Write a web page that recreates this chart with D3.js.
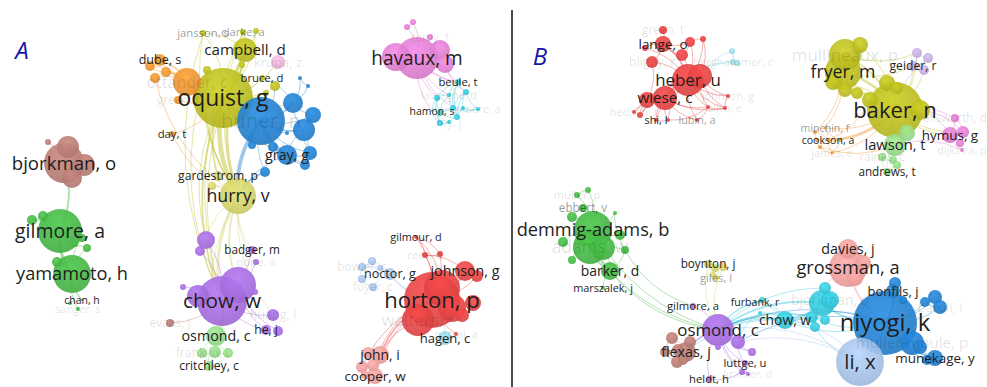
<!DOCTYPE html>
<html>
<head>
<meta charset="utf-8">
<script src="https://cdn.jsdelivr.net/npm/d3@7"></script>
<style>
  html, body { margin: 0; padding: 0; background: #fff; overflow: hidden; }
  svg { display: block; }
  text { font-family: "Open Sans", "Noto Sans", sans-serif; }
</style>
</head>
<body>
<svg id="chart" width="987" height="387"></svg>
<script>
// Cluster colours of the two co-authorship maps
const clusterColors = {
  red: "#e54444", green: "#45b845", blue: "#2381d0", olive: "#bcbe20",
  purple: "#a66ddf", cyan: "#38c9dc", orange: "#f2952f", brown: "#b97d75",
  pink: "#e07fd3", lightblue: "#a7c3e9", lightgreen: "#95db89", lightred: "#f3a09e",
  lightpurple: "#c6afdc", khaki: "#d3d36c", lightcyan: "#9edae6", lightpink: "#f3b6d8"
};

const panelLetters = ["A", "B"];

// Panel A nodes: [id, label, layout x, layout y, weight, cluster]
const nodesA = [
  ["bjorkman", "bjorkman, o", 64, 163, 400, "brown"],
  ["br1", "", 84, 165, 121, "brown"],
  ["br2", "", 68, 147, 121, "brown"],
  ["br3", "", 72, 178, 100, "brown"],
  ["br4", "", 48, 142, 9, "brown"],
  ["evans", "evans, j", 170, 323, 16, "brown"],
  ["gilmore", "gilmore, a", 60, 231, 484, "green"],
  ["g1", "", 32, 220, 25, "green"],
  ["g2", "", 43, 216, 25, "green"],
  ["g3", "", 82, 238, 16, "green"],
  ["g4", "", 87, 248, 16, "green"],
  ["g5", "", 75, 244, 9, "green"],
  ["yamamoto", "yamamoto, h", 72, 274, 361, "green"],
  ["g6", "", 57, 262, 25, "green"],
  ["chan", "chan, h", 82, 300, 1, "green"],
  ["sanger", "sanger, s", 78, 309, 4, "green"],
  ["g7", "", 70, 303, 4, "green"],
  ["dube", "dube, s", 160, 60, 36, "orange"],
  ["o1", "", 150, 66, 25, "orange"],
  ["o2", "", 166, 72, 25, "orange"],
  ["o3", "", 155, 78, 25, "orange"],
  ["ottander", "ottander, c", 187, 82, 196, "orange"],
  ["greer", "greer, d", 178, 100, 16, "orange"],
  ["day", "day, t", 172, 134, 9, "orange"],
  ["oquist", "oquist, g", 223, 98, 900, "olive"],
  ["campbell", "campbell, d", 245, 50, 144, "olive"],
  ["clarke", "clarke, a", 243, 32, 9, "olive"],
  ["jansson", "jansson, s", 203, 33, 9, "olive"],
  ["ol2", "", 256, 31, 9, "olive"],
  ["ol3", "", 207, 70, 16, "olive"],
  ["ol4", "", 242, 65, 9, "olive"],
  ["bruce", "bruce, d", 262, 78, 9, "olive"],
  ["ol5", "", 275, 86, 25, "olive"],
  ["ol6", "", 266, 93, 9, "olive"],
  ["hurry", "hurry, v", 238, 196, 324, "khaki"],
  ["gardestrom", "gardestrom, p", 218, 176, 25, "khaki"],
  ["k1", "", 212, 186, 16, "khaki"],
  ["krupa", "krupa, z", 278, 62, 49, "lightpink"],
  ["huner", "huner, n", 261, 121, 576, "blue"],
  ["b1", "", 293, 103, 100, "blue"],
  ["b2", "", 313, 115, 64, "blue"],
  ["b3", "", 304, 130, 121, "blue"],
  ["gray", "gray, g", 287, 155, 100, "blue"],
  ["b4", "", 310, 153, 49, "blue"],
  ["b5", "", 305, 165, 25, "blue"],
  ["b6", "", 273, 147, 25, "blue"],
  ["b7", "", 265, 172, 25, "blue"],
  ["b8", "", 300, 78, 4, "blue"],
  ["b9", "", 308, 86, 4, "blue"],
  ["b10", "", 252, 145, 16, "blue"],
  ["b11", "", 287, 133, 4, "blue"],
  ["chow", "chow, w", 222, 301, 625, "purple"],
  ["p1", "", 238, 285, 324, "purple"],
  ["p2", "", 198, 296, 121, "purple"],
  ["p3", "", 206, 240, 81, "purple"],
  ["p4", "", 200, 251, 25, "purple"],
  ["badger", "badger, m", 252, 250, 16, "purple"],
  ["pope", "pope, a", 256, 262, 9, "purple"],
  ["p5", "", 183, 287, 9, "purple"],
  ["huang", "huang, l", 273, 315, 36, "purple"],
  ["he", "he, j", 266, 330, 25, "purple"],
  ["p6", "", 278, 331, 25, "purple"],
  ["p7", "", 255, 292, 9, "purple"],
  ["osmond", "osmond, c", 216, 336, 100, "lightgreen"],
  ["franklin", "franklin, l", 202, 353, 25, "lightgreen"],
  ["lg2", "", 215, 352, 36, "lightgreen"],
  ["lg3", "", 228, 353, 25, "lightgreen"],
  ["critchley", "critchley, c", 209, 366, 25, "lightgreen"],
  ["havaux", "havaux, m", 417, 58, 441, "pink"],
  ["h1", "", 396, 57, 196, "pink"],
  ["h2", "", 440, 50, 100, "pink"],
  ["h3", "", 445, 64, 81, "pink"],
  ["h4", "", 407, 27, 9, "pink"],
  ["h5", "", 413, 22, 9, "pink"],
  ["tardy", "tardy, f", 430, 37, 9, "pink"],
  ["beule", "beule, t", 458, 82, 9, "cyan"],
  ["c1", "", 466, 92, 9, "cyan"],
  ["lavergne", "lavergne, d", 449, 95, 4, "cyan"],
  ["c2", "", 437, 98, 9, "cyan"],
  ["c3", "", 453, 108, 9, "cyan"],
  ["c4", "", 463, 108, 4, "cyan"],
  ["hamon", "hamon, s", 432, 111, 1, "cyan"],
  ["c5", "", 440, 113, 9, "cyan"],
  ["c6", "", 457, 117, 9, "cyan"],
  ["moore", "moore, a", 478, 109, 4, "cyan"],
  ["roy", "roy, j", 449, 122, 4, "cyan"],
  ["c7", "", 440, 123, 9, "cyan"],
  ["horton", "horton, p", 432, 300, 784, "red"],
  ["r1", "", 442, 288, 324, "red"],
  ["walters", "walters, r", 418, 320, 256, "red"],
  ["r2", "", 452, 308, 196, "red"],
  ["johnson", "johnson, g", 465, 271, 100, "red"],
  ["r3", "", 473, 303, 64, "red"],
  ["r4", "", 462, 315, 49, "red"],
  ["r5", "", 477, 276, 36, "red"],
  ["rees", "rees, d", 425, 255, 9, "red"],
  ["gilmour", "gilmour, d", 416, 237, 4, "red"],
  ["r6", "", 440, 254, 9, "red"],
  ["pascal", "pascal, a", 456, 334, 4, "red"],
  ["noctor", "noctor, g", 390, 274, 36, "lightblue"],
  ["bowler", "bowler, c", 362, 267, 16, "lightblue"],
  ["lb2", "", 372, 261, 16, "lightblue"],
  ["lb3", "", 362, 279, 16, "lightblue"],
  ["foyer", "foyer, c", 373, 287, 16, "lightblue"],
  ["lb4", "", 380, 268, 9, "lightblue"],
  ["hagen", "hagen, c", 445, 338, 49, "lightcyan"],
  ["john", "john, i", 380, 355, 81, "lightred"],
  ["lr1", "", 368, 353, 36, "lightred"],
  ["lr2", "", 362, 367, 36, "lightred"],
  ["lr3", "", 373, 365, 36, "lightred"],
  ["cooper", "cooper, w", 375, 376, 64, "lightred"],
  ["lr4", "", 365, 375, 16, "lightred"]
];

// Panel A co-authorship links: [source, target, strength]
const linksA = [
  ["bjorkman","br1",2],["bjorkman","br2",2],["bjorkman","br3",2],["br1","br3",1],["bjorkman","br4",1],
  ["gilmore","bjorkman",2],
  ["gilmore","g1",1],["gilmore","g2",1],["gilmore","g3",1],["gilmore","g4",1],["gilmore","g5",1],
  ["gilmore","yamamoto",3],["yamamoto","g6",1],["yamamoto","chan",1],["yamamoto","sanger",1],["chan","g7",1],
  ["g4","yamamoto",1],["g3","yamamoto",1],["gilmore","chan",1],["g1","g2",1],
  ["ottander","dube",2],["ottander","o1",1],["ottander","o2",2],["ottander","o3",1],["dube","o1",1],["o1","o2",1],
  ["o2","o3",1],["ottander","greer",1],["ottander","oquist",3],["greer","oquist",1],["day","oquist",1],
  ["dube","oquist",1],["o3","hurry",1],["day","hurry",1],
  ["oquist","campbell",3],["oquist","clarke",1],["oquist","jansson",1],["oquist","ol2",1],["oquist","ol3",1],
  ["oquist","ol4",1],["oquist","bruce",1],["oquist","ol5",1],["oquist","ol6",1],["campbell","clarke",1],
  ["campbell","ol2",1],["campbell","jansson",1],["oquist","hurry",5],["oquist","huner",4],["oquist","gardestrom",2],
  ["oquist","chow",2],["oquist","krupa",1],["oquist","gray",2],["oquist","b1",1],["campbell","hurry",3],
  ["campbell","chow",1],["jansson","hurry",1],["oquist","p3",1],["clarke","hurry",1],["ol3","chow",1],
  ["ol3","hurry",2],["jansson","chow",1],["clarke","chow",1],
  ["hurry","chow",3],["hurry","p1",2],["hurry","p3",1],["hurry","badger",1],["hurry","gardestrom",1],
  ["hurry","k1",1],["hurry","osmond",1],["hurry","pope",1],["hurry","huang",1],
  ["huner","b1",2],["huner","b2",1],["huner","b3",2],["huner","gray",3],["huner","b4",1],["huner","b5",1],
  ["huner","b6",1],["huner","b7",1],["huner","b10",1],["b1","b2",1],["b1","b3",1],["b2","b3",1],["b3","b4",1],
  ["b4","b5",1],["gray","b5",1],["gray","b4",1],["b1","b8",1],["b1","b9",1],["b8","b9",1],["b6","gray",1],
  ["b3","gray",1],["huner","hurry",4],["huner","b11",1],["b7","hurry",2],["b1","bruce",1],["huner","ol5",1],
  ["b2","b4",1],["gray","hurry",1],
  ["chow","p1",2],["chow","p2",2],["chow","p3",1],["chow","p4",1],["chow","badger",1],["chow","pope",1],
  ["chow","p5",1],["chow","huang",1],["chow","he",1],["chow","p7",1],["p1","he",1],["p3","p4",1],["p1","p6",1],
  ["evans","chow",1],["osmond","chow",2],["critchley","chow",1],
  ["osmond","franklin",1],["osmond","lg2",1],["osmond","lg3",1],["osmond","critchley",1],["franklin","lg2",1],
  ["lg2","lg3",1],["critchley","franklin",1],["critchley","lg3",1],
  ["havaux","h1",2],["havaux","h2",2],["havaux","h3",2],["havaux","h4",1],["havaux","h5",1],["havaux","tardy",1],
  ["h4","h5",1],["havaux","beule",2],["havaux","c2",1],["havaux","lavergne",1],["havaux","hamon",1],
  ["havaux","c3",1],["h3","beule",1],["h3","c1",1],
  ["beule","c1",1],["beule","lavergne",1],["beule","c2",1],["beule","c3",1],["c1","c3",1],["c1","c4",1],
  ["lavergne","c2",1],["lavergne","c3",1],["c2","hamon",1],["c2","c5",1],["c3","c6",1],["c4","c6",1],
  ["c5","c7",1],["c5","c6",1],["c6","roy",1],["c7","roy",1],["hamon","c7",1],["c3","moore",1],["c4","moore",1],
  ["c1","moore",1],["lavergne","c5",1],["c3","c5",1],["hamon","c3",1],["c2","c7",1],["beule","c6",1],["c1","c6",1],
  ["horton","r1",2],["horton","walters",2],["horton","r2",2],["horton","johnson",2],["horton","r3",1],
  ["horton","r4",1],["horton","r5",1],["horton","rees",1],["horton","gilmour",1],["horton","r6",1],
  ["rees","gilmour",1],["r6","gilmour",1],["rees","r6",1],["horton","pascal",1],["horton","john",2],
  ["horton","cooper",1],["walters","john",1],["r1","lr3",1],["horton","lr2",1],["johnson","r5",1],
  ["r1","gilmour",1],["johnson","rees",1],
  ["noctor","bowler",1],["noctor","lb2",1],["noctor","lb3",1],["noctor","foyer",1],["noctor","lb4",1],
  ["bowler","lb2",1],["bowler","lb3",1],["lb3","foyer",1],["noctor","horton",2],
  ["john","lr1",1],["john","lr2",1],["john","lr3",1],["john","cooper",1],["cooper","lr4",1],["lr1","lr2",1],
  ["lr2","lr4",1],["hagen","horton",1]
];

// Panel B nodes: [id, label, layout x, layout y, weight, cluster]
const nodesB = [
  ["heber", "heber, u", 176, 80, 256, "red"],
  ["e2", "", 188, 76, 144, "red"],
  ["wiese", "wiese, c", 153, 98, 144, "red"],
  ["e3", "", 135, 100, 64, "red"],
  ["bligny", "bligny, r", 140, 62, 36, "red"],
  ["green", "green, t", 151, 30, 16, "red"],
  ["lange", "lange, o", 151, 44, 64, "red"],
  ["e5", "", 178, 42, 25, "red"],
  ["e6", "", 170, 55, 36, "red"],
  ["e7", "", 191, 39, 9, "red"],
  ["e8", "", 133, 48, 9, "red"],
  ["hedrich", "hedrich, r", 122, 112, 4, "red"],
  ["e9", "", 128, 115, 9, "red"],
  ["shi", "shi, l", 144, 120, 4, "red"],
  ["lubin", "lubin, a", 185, 120, 4, "red"],
  ["e10", "", 196, 107, 4, "red"],
  ["johnsonB", "johnson, g", 216, 96, 4, "red"],
  ["silva", "silva, e", 213, 108, 4, "red"],
  ["e13", "", 156, 120, 4, "red"],
  ["ghammer", "berghammer, c", 221, 62, 9, "lightcyan"],
  ["lc1", "", 220, 51, 9, "lightcyan"],
  ["lc2", "", 225, 63, 9, "lightcyan"],
  ["baker", "baker, n", 383, 110, 784, "olive"],
  ["ob1", "", 408, 110, 100, "olive"],
  ["ob2", "", 375, 83, 64, "olive"],
  ["ob3", "", 385, 88, 36, "olive"],
  ["mullineaux", "mullineaux, p", 333, 55, 256, "olive"],
  ["ob4", "", 348, 45, 64, "olive"],
  ["fryer", "fryer, m", 331, 72, 324, "olive"],
  ["ob5", "", 321, 82, 64, "olive"],
  ["ob6", "", 333, 90, 49, "olive"],
  ["ob7", "", 345, 93, 36, "olive"],
  ["ob8", "", 358, 100, 64, "olive"],
  ["geider", "geider, r", 401, 66, 25, "lightpurple"],
  ["gp1", "", 405, 53, 25, "lightpurple"],
  ["gp2", "", 416, 58, 25, "lightpurple"],
  ["gp3", "", 412, 70, 25, "lightpurple"],
  ["hymus", "hymus, g", 438, 135, 64, "pink"],
  ["pk1", "", 451, 132, 36, "pink"],
  ["ellsworth", "ellsworth, d", 443, 118, 16, "pink"],
  ["pk2", "", 448, 143, 16, "pink"],
  ["dijkstra", "dijkstra, p", 450, 150, 4, "pink"],
  ["minchin", "minchin, f", 313, 128, 2, "orange"],
  ["cookson", "cookson, a", 316, 140, 2, "orange"],
  ["james", "james, e", 320, 153, 2, "orange"],
  ["or1", "", 303, 132, 4, "orange"],
  ["or2", "", 308, 147, 4, "orange"],
  ["or3", "", 328, 140, 4, "orange"],
  ["or4", "", 305, 140, 4, "orange"],
  ["lawson", "lawson, t", 383, 145, 121, "lightgreen"],
  ["lgb1", "", 395, 133, 64, "lightgreen"],
  ["raines", "raines, c", 370, 157, 16, "lightgreen"],
  ["lgb2", "", 381, 160, 16, "lightgreen"],
  ["lgb3", "", 385, 165, 16, "lightgreen"],
  ["andrews", "andrews, t", 375, 172, 16, "lightgreen"],
  ["demmig", "demmig-adams, b", 81, 230, 361, "green"],
  ["adams", "adams, w", 78, 247, 289, "green"],
  ["gr1", "", 91, 248, 144, "green"],
  ["barker", "barker, d", 98, 271, 81, "green"],
  ["gr2", "", 108, 235, 25, "green"],
  ["gr3", "", 113, 250, 16, "green"],
  ["gr4", "", 60, 260, 16, "green"],
  ["gr5", "", 76, 190, 9, "green"],
  ["muller", "muller, p", 65, 195, 9, "green"],
  ["gr6", "", 103, 213, 4, "green"],
  ["ebbert", "ebbert, v", 71, 208, 16, "green"],
  ["gr7", "", 60, 217, 25, "green"],
  ["gr8", "", 51, 242, 25, "green"],
  ["marszalek", "marszalek, j", 91, 288, 4, "green"],
  ["boynton", "boynton, j", 196, 264, 16, "khaki"],
  ["kh1", "", 203, 268, 16, "khaki"],
  ["kh2", "", 211, 267, 16, "khaki"],
  ["giles", "giles, l", 204, 278, 9, "khaki"],
  ["kh3", "", 201, 275, 9, "khaki"],
  ["osmondB", "osmond, c", 206, 330, 256, "purple"],
  ["pu1", "", 226, 342, 49, "purple"],
  ["pu2", "", 240, 352, 16, "purple"],
  ["luttge", "luttge, u", 233, 363, 9, "purple"],
  ["pu3", "", 206, 347, 9, "purple"],
  ["kramer", "kramer, d", 236, 374, 4, "purple"],
  ["pu4", "", 230, 372, 9, "purple"],
  ["heldt", "heldt, h", 197, 379, 9, "purple"],
  ["gilmoreB", "gilmore, a", 181, 306, 9, "purple"],
  ["flexas", "flexas, j", 174, 352, 100, "brown"],
  ["fb1", "", 160, 338, 36, "brown"],
  ["fb2", "", 153, 352, 25, "brown"],
  ["fb3", "", 166, 350, 36, "brown"],
  ["fb4", "", 165, 362, 36, "brown"],
  ["fb5", "", 178, 342, 36, "brown"],
  ["fb6", "", 171, 360, 25, "brown"],
  ["chowB", "chow, w", 273, 320, 81, "cyan"],
  ["cy1", "", 310, 303, 169, "cyan"],
  ["bjorkmanB", "bjorkman, o", 318, 300, 81, "cyan"],
  ["cy2", "", 313, 288, 36, "cyan"],
  ["cy3", "", 300, 317, 36, "cyan"],
  ["cy4", "", 303, 327, 25, "cyan"],
  ["cy5", "", 313, 320, 25, "cyan"],
  ["furbank", "furbank, r", 243, 302, 2, "cyan"],
  ["cy6", "", 250, 300, 9, "cyan"],
  ["cy7", "", 248, 313, 4, "cyan"],
  ["grossman", "grossman, a", 336, 268, 361, "lightred"],
  ["davies", "davies, j", 336, 249, 100, "lightred"],
  ["lrb1", "", 351, 263, 64, "lightred"],
  ["lrb2", "", 343, 278, 64, "lightred"],
  ["niyogi", "niyogi, k", 373, 323, 1024, "blue"],
  ["bonfils", "bonfils, j", 381, 291, 49, "blue"],
  ["bl1", "", 383, 283, 36, "blue"],
  ["bl2", "", 423, 297, 49, "blue"],
  ["baroli", "baroli, i", 428, 307, 49, "blue"],
  ["bl3", "", 413, 302, 25, "blue"],
  ["mullerm", "muller-moule, p", 400, 343, 144, "blue"],
  ["bl4", "", 408, 347, 49, "blue"],
  ["munekage", "munekage, y", 423, 358, 64, "blue"],
  ["bl5", "", 415, 360, 25, "blue"],
  ["bl6", "", 391, 300, 16, "blue"],
  ["li", "li, x", 348, 362, 576, "lightblue"]
];

// Panel B co-authorship links: [source, target, strength]
const linksB = [
  ["heber","e2",3],["heber","wiese",3],["heber","e3",1],["heber","bligny",1],["heber","lange",2],["heber","e5",1],
  ["heber","e6",1],["heber","e7",1],["heber","e8",1],["heber","hedrich",1],["heber","e9",1],["heber","shi",1],
  ["heber","lubin",1],["heber","e10",1],["heber","johnsonB",1],["heber","silva",1],["heber","e13",1],
  ["wiese","e3",1],["wiese","shi",1],["wiese","e9",1],["wiese","hedrich",1],["wiese","lubin",1],["wiese","e13",1],
  ["lange","green",1],["lange","e5",1],["lange","e6",1],["lange","e8",1],["e2","e10",1],["e2","johnsonB",1],
  ["e2","silva",1],["e6","e5",1],["e3","bligny",1],["bligny","lange",1],["e7","e5",1],["e2","e7",1],
  ["shi","e13",1],["lubin","e10",1],["johnsonB","silva",1],["e10","silva",1],["wiese","silva",1],["e3","e9",1],
  ["wiese","e10",1],["e13","e10",1],
  ["ghammer","lc1",1],["ghammer","lc2",1],["lc1","lc2",1],["ghammer","heber",2],["lc1","e2",1],
  ["baker","ob1",2],["baker","ob2",2],["baker","ob3",1],["baker","fryer",3],["baker","mullineaux",2],
  ["baker","ob4",1],["baker","ob5",1],["baker","ob6",1],["baker","ob7",1],["baker","ob8",2],
  ["fryer","mullineaux",2],["fryer","ob4",1],["fryer","ob5",1],["fryer","ob6",1],["fryer","ob7",1],
  ["mullineaux","ob4",1],["baker","geider",1],["baker","gp1",1],["baker","gp3",1],["baker","lawson",2],
  ["baker","lgb1",1],["baker","hymus",1],["baker","pk1",1],["fryer","geider",1],["mullineaux","gp1",1],
  ["cookson","minchin",1],["cookson","james",1],["cookson","or1",1],["cookson","or2",1],["cookson","or3",1],
  ["cookson","or4",1],["minchin","or1",1],["or1","or4",1],["or4","or2",1],["or2","james",1],["james","or3",1],
  ["minchin","or3",1],["cookson","baker",2],["or3","baker",1],["minchin","baker",1],["james","baker",1],
  ["or1","fryer",1],["minchin","fryer",1],["or2","lawson",1],["cookson","ob8",1],
  ["geider","gp1",1],["gp1","gp2",1],["gp2","gp3",1],["geider","gp3",1],["geider","gp2",1],["gp2","baker",1],
  ["hymus","pk1",1],["hymus","ellsworth",1],["hymus","pk2",1],["hymus","dijkstra",1],["pk1","ellsworth",1],
  ["pk1","pk2",1],["ellsworth","baker",1],["pk1","ob1",1],["hymus","ob1",1],["dijkstra","lawson",1],
  ["lawson","lgb1",1],["lawson","raines",1],["lawson","lgb2",1],["lawson","lgb3",1],["lawson","andrews",1],
  ["raines","lgb2",1],["lgb2","lgb3",1],["lgb3","andrews",1],["raines","andrews",1],
  ["demmig","adams",3],["demmig","gr1",2],["demmig","barker",2],["demmig","gr2",1],["demmig","gr3",1],
  ["demmig","gr4",1],["demmig","gr5",1],["demmig","muller",1],["demmig","gr6",1],["demmig","ebbert",1],
  ["demmig","gr7",1],["demmig","gr8",1],["barker","marszalek",1],["barker","gr1",1],["barker","gr3",1],
  ["adams","barker",2],["adams","gr4",1],["gr2","gr3",1],["gr5","muller",1],["ebbert","gr7",1],["gr6","gr2",1],
  ["demmig","osmondB",1],["adams","osmondB",1],["barker","osmondB",1],["gr3","gilmoreB",1],
  ["boynton","kh1",1],["kh1","kh2",1],["boynton","giles",1],["giles","kh3",1],["kh2","giles",1],
  ["boynton","osmondB",1],["kh2","osmondB",1],
  ["osmondB","pu1",2],["pu1","pu2",1],["osmondB","luttge",1],["osmondB","pu3",1],["osmondB","kramer",1],
  ["osmondB","pu4",1],["osmondB","heldt",1],["osmondB","gilmoreB",1],["pu4","kramer",1],["luttge","kramer",1],
  ["heldt","pu4",1],["osmondB","flexas",2],["osmondB","pu2",1],["pu1","luttge",1],
  ["flexas","fb1",1],["flexas","fb2",1],["flexas","fb3",1],["flexas","fb4",1],["flexas","fb5",1],
  ["flexas","fb6",1],["fb1","fb2",1],["fb2","fb4",1],
  ["chowB","cy1",3],["chowB","osmondB",2],["cy1","osmondB",2],["furbank","osmondB",1],["cy6","osmondB",1],
  ["cy3","osmondB",1],["chowB","furbank",1],["chowB","cy6",1],["chowB","cy7",1],["cy1","cy2",1],["cy1","cy3",1],
  ["cy1","cy4",1],["cy1","cy5",1],["cy1","bjorkmanB",1],["cy1","niyogi",2],["cy3","niyogi",1],
  ["chowB","niyogi",1],["cy4","li",1],["cy7","pu1",1],["cy4","osmondB",1],["cy5","osmondB",1],
  ["cy2","osmondB",1],["chowB","flexas",1],
  ["grossman","davies",2],["grossman","lrb1",1],["grossman","lrb2",1],["grossman","niyogi",2],
  ["davies","lrb1",1],["grossman","cy2",1],
  ["niyogi","bonfils",2],["niyogi","bl1",1],["niyogi","bl2",1],["niyogi","baroli",1],["niyogi","bl3",1],
  ["niyogi","mullerm",2],["niyogi","bl4",1],["niyogi","munekage",2],["niyogi","bl5",1],["niyogi","bl6",1],
  ["bl2","baroli",1],["bl3","baroli",1],["mullerm","bl4",1],["munekage","bl5",1],["bl4","munekage",1],
  ["bonfils","bl1",1],["niyogi","chowB",1],["niyogi","osmondB",1],["bonfils","bl6",1],["niyogi","pu1",1],
  ["li","niyogi",2],["li","chowB",1],["li","osmondB",1],["li","pu1",1]
];

// Labels drawn faintly (hidden behind denser labels) and in mid grey
const dimmedA = ["evans","sanger","ottander","greer","huner","krupa","pope","huang","franklin","tardy",
  "lavergne","moore","roy","walters","rees","pascal","bowler","foyer"];
const greyedA = ["jansson","clarke"];
const dimmedB = ["green","bligny","hedrich","johnsonB","silva","ghammer","mullineaux","ellsworth","dijkstra",
  "james","raines","adams","muller","kramer","bjorkmanB","mullerm","baroli"];
const greyedB = ["lubin","minchin","ebbert","giles"];

const W = 987, H = 387, DIVIDER = 512;
const svg = d3.select("#chart");

// Shared scales: weight -> circle radius, weight -> label size, strength -> line width
const rScale = d3.scaleSqrt().domain([0, 1024]).range([0, 32]);
const fontScale = d3.scaleSqrt().domain([0, 1024]).range([10, 23.8]);
const widthScale = d3.scaleLinear().domain([1, 5]).range([0.9, 4.6]);

// Radial shading for every cluster colour
const defs = svg.append("defs");
Object.entries(clusterColors).forEach(([key, col]) => {
  const g = defs.append("radialGradient").attr("id", "grad-" + key)
    .attr("cx", "45%").attr("cy", "35%").attr("r", "70%");
  g.append("stop").attr("offset", "0%").attr("stop-color", d3.color(col).brighter(0.25));
  g.append("stop").attr("offset", "100%").attr("stop-color", d3.color(col).darker(0.2));
});

function curvedPath(s, t) {
  const mx = (s.x + t.x) / 2, my = (s.y + t.y) / 2;
  const dx = t.x - s.x, dy = t.y - s.y;
  const cx = mx - dy * 0.2, cy = my + dx * 0.2;
  return `M${s.x},${s.y}Q${cx},${cy} ${t.x},${t.y}`;
}

function drawPanel(nodes, links, xScale, yScale, dimmed, greyed) {
  const byId = new Map(nodes.map(n => [n[0], {
    id: n[0], label: n[1], x: xScale(n[2]), y: yScale(n[3]), w: n[4], c: n[5]
  }]));
  const nodeObjs = Array.from(byId.values());
  const linkObjs = links.map(l => ({ s: byId.get(l[0]), t: byId.get(l[1]), w: l[2] }))
    .filter(l => l.s && l.t);

  const g = svg.append("g");
  g.append("g").selectAll("path").data(linkObjs).join("path")
    .attr("d", d => curvedPath(d.s, d.t))
    .attr("fill", "none")
    .attr("stroke", d => clusterColors[d.s.c])
    .attr("stroke-opacity", 0.45)
    .attr("stroke-width", d => widthScale(d.w));

  g.append("g").selectAll("circle")
    .data(nodeObjs.slice().sort((a, b) => b.w - a.w)).join("circle")
    .attr("cx", d => d.x).attr("cy", d => d.y)
    .attr("r", d => rScale(d.w))
    .attr("fill", d => `url(#grad-${d.c})`)
    .attr("fill-opacity", 0.9);

  const tone = d => dimmed.includes(d.id) ? 0 : greyed.includes(d.id) ? 1 : 2;
  const labelled = nodeObjs.filter(d => d.label)
    .sort((a, b) => tone(a) - tone(b) || a.w - b.w);
  g.append("g").selectAll("text").data(labelled).join("text")
    .attr("x", d => d.x).attr("y", d => d.y)
    .attr("dy", "0.35em")
    .attr("text-anchor", "middle")
    .attr("font-size", d => fontScale(d.w))
    .attr("fill", d => ["#000", "#000", "#1e1e1e"][tone(d)])
    .attr("fill-opacity", d => [0.13, 0.42, 1][tone(d)])
    .text(d => d.label);
}

const xA = d3.scaleLinear().domain([0, 512]).range([0, DIVIDER]);
const yA = d3.scaleLinear().domain([0, 387]).range([0, H]);
const xB = d3.scaleLinear().domain([0, 475]).range([DIVIDER, W]);
const yB = d3.scaleLinear().domain([0, 387]).range([0, H]);

drawPanel(nodesA, linksA, xA, yA, dimmedA, greyedA);
drawPanel(nodesB, linksB, xB, yB, dimmedB, greyedB);

// Divider between the two maps
svg.append("line")
  .attr("x1", DIVIDER).attr("x2", DIVIDER)
  .attr("y1", 10).attr("y2", H)
  .attr("stroke", "#111").attr("stroke-width", 1.5);

// Panel letters
svg.selectAll("text.panel").data(panelLetters).join("text")
  .attr("class", "panel")
  .attr("x", (d, i) => i === 0 ? 22 : 540)
  .attr("y", (d, i) => i === 0 ? 51 : 57)
  .attr("dy", "0.35em")
  .attr("text-anchor", "middle")
  .attr("font-size", 24)
  .attr("font-style", "italic")
  .attr("fill", "#1616a8")
  .text(d => d);
</script>
</body>
</html>
